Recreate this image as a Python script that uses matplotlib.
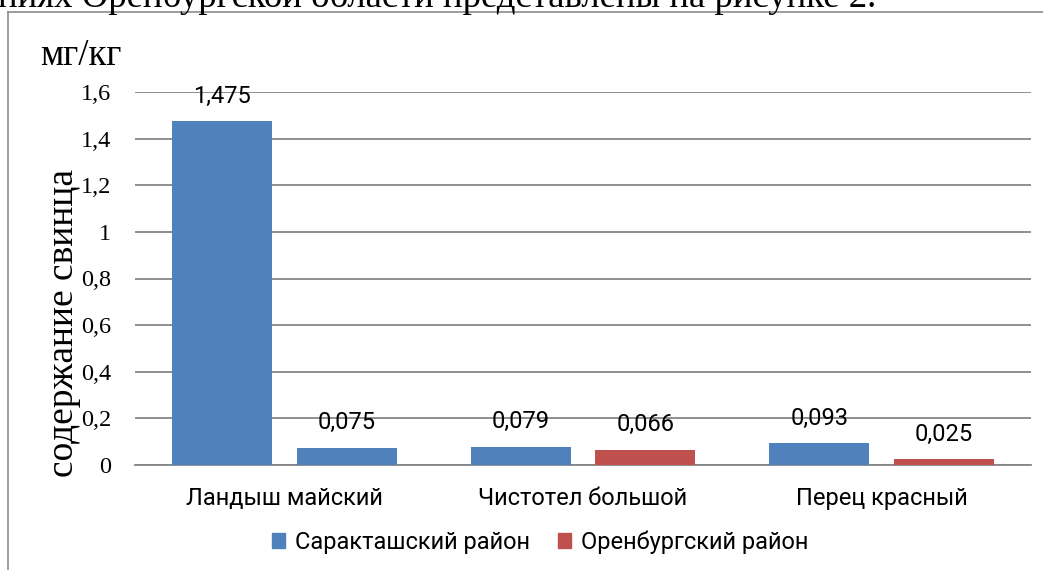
import numpy as np
import matplotlib

matplotlib.use("Agg")
import matplotlib.pyplot as plt
from matplotlib.patches import Patch

# data
categories = ["Ландыш майский", "Чистотел большой", "Перец красный"]
series_names = ["Саракташский район", "Оренбургский район"]
sarakt = [1.475, 0.079, 0.093]
orenb = [0.075, 0.066, 0.025]
value_labels_s = ["1,475", "0,079", "0,093"]
value_labels_o = ["0,075", "0,066", "0,025"]
yticks = [0, 0.2, 0.4, 0.6, 0.8, 1, 1.2, 1.4, 1.6]
ytick_labels = ["0", "0,2", "0,4", "0,6", "0,8", "1", "1,2", "1,4", "1,6"]

BLUE = "#4F81BD"
RED = "#C0504D"
GRID = "#868686"
SANS = ["Roboto", "DejaVu Sans"]
SERIF = ["Liberation Serif", "DejaVu Serif"]

W, H = 1043, 570
fig = plt.figure(figsize=(W / 100, H / 100), dpi=100)

# chart frame (only left and top edges are inside the picture)
fig.add_artist(plt.Line2D([8 / W, 8 / W], [0, 1 - 12 / H], color="#8c8c8c", lw=1.2))
fig.add_artist(plt.Line2D([8 / W, 1], [1 - 12 / H, 1 - 12 / H], color="#8c8c8c", lw=1.2))

# clipped line of the document text above the chart
fig.text(876 / W, 1 - 7 / H, "ниях Оренбургской области представлены на рисунке 2.",
         ha="right", va="baseline", fontsize=26.5, family=SERIF)

ax = fig.add_axes([135 / W, 1 - 465 / H, (1031 - 135) / W, (465 - 92) / H])
x = np.arange(len(categories))
bw = 0.335
off = 0.209
# first Оренбургский bar is drawn blue in the original
colors_o = [BLUE, RED, RED]
ax.bar(x - off, sarakt, bw, color=BLUE, zorder=3)
ax.bar(x + off, orenb, bw, color=colors_o, zorder=3)

for xi, v, t in zip(x - off, sarakt, value_labels_s):
    ax.annotate(t, (xi, v), xytext=(0, 18), textcoords="offset points",
                ha="center", va="center", fontsize=17, family=SANS, zorder=4)
for xi, v, t in zip(x + off, orenb, value_labels_o):
    ax.annotate(t, (xi, v), xytext=(0, 18), textcoords="offset points",
                ha="center", va="center", fontsize=17, family=SANS, zorder=4)

ax.set_xlim(-0.5, 2.5)
ax.set_ylim(0, 1.6)
ax.set_yticks(yticks)
ax.set_yticklabels(ytick_labels, family=SERIF, fontsize=17.5)
ax.set_xticks(x)
ax.set_xticklabels(categories, family=SANS, fontsize=17)
ax.tick_params(axis="y", length=0, pad=17)
ax.tick_params(axis="x", length=0, pad=16)
ax.grid(axis="y", color=GRID, lw=1.3, zorder=0)
for s in ["top", "right", "left"]:
    ax.spines[s].set_visible(False)
ax.spines["bottom"].set_color(GRID)
ax.spines["bottom"].set_linewidth(1.3)

fig.text(64 / W, 1 - 323 / H, "содержание свинца", rotation=90, ha="center",
         va="center", fontsize=27, family=SERIF)
fig.text(40 / W, 1 - 65 / H, "мг/кг", ha="left", va="baseline",
         fontsize=26.5, family=SERIF)

handles = [Patch(color=BLUE), Patch(color=RED)]
fig.legend(handles, series_names, loc="center", bbox_to_anchor=(540 / W, 1 - 542 / H),
           ncol=2, frameon=False, handlelength=0.57, handleheight=0.57,
           handletextpad=0.4, columnspacing=1.2, prop={"family": SANS, "size": 17})

fig.savefig("out.png", dpi=100)
